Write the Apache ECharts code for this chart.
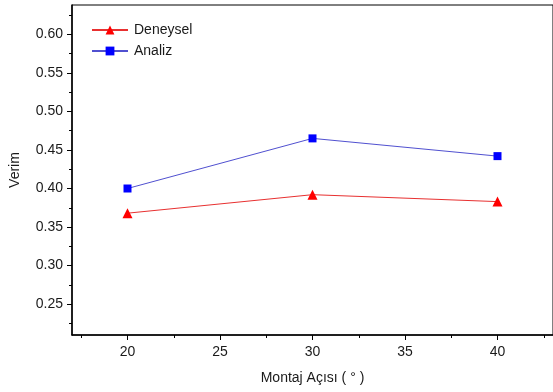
<!DOCTYPE html>
<html><head><meta charset="utf-8">
<script src="https://cdn.jsdelivr.net/npm/echarts@6/dist/echarts.min.js"></script>
<style>html,body{margin:0;padding:0;background:#fff}#c{width:553px;height:392px}</style>
</head><body><div id="c"></div>
<script>
const angles = [20, 30, 40];
const deneysel = [0.368, 0.392, 0.383];
const analiz = [0.400, 0.465, 0.442];
const xMajor = [20, 25, 30, 35, 40];
const xMinor = [17.5, 22.5, 27.5, 32.5, 37.5, 42.5];
const yMajor = [0.25, 0.30, 0.35, 0.40, 0.45, 0.50, 0.55, 0.60];
const yMinor = [0.225, 0.275, 0.325, 0.375, 0.425, 0.475, 0.525, 0.575, 0.625];

const font = 'Liberation Sans, Arial, sans-serif';
const txt = '#1a1a1a';
const chart = echarts.init(document.getElementById('c'), null, {renderer: 'canvas'});
const xBase = {type: 'value', min: 17, max: 43, splitLine: {show: false}};
const yBase = {type: 'value', min: 0.21, max: 0.638, splitLine: {show: false}};
chart.setOption({
  animation: false,
  backgroundColor: '#fff',
  grid: {left: 72, top: 5, right: -3, bottom: 57, show: true, borderColor: '#000', borderWidth: 1},
  legend: {
    orient: 'vertical', left: 86, top: 18, itemWidth: 36, itemHeight: 11, itemGap: 7,
    textStyle: {fontFamily: font, fontSize: 14, color: txt, padding: [0, 0, 0, 1]},
    data: ['Deneysel', 'Analiz']
  },
  xAxis: [
    Object.assign({}, xBase, {
      name: 'Montaj Açısı ( ° )', nameLocation: 'middle', nameGap: 36,
      nameTextStyle: {fontFamily: font, fontSize: 14, color: txt},
      axisLine: {lineStyle: {color: '#000', width: 1.5}},
      axisTick: {inside: false, length: 5, lineStyle: {color: '#000', width: 1}, customValues: xMajor},
      axisLabel: {customValues: xMajor, fontFamily: font, fontSize: 14, color: txt, margin: 10,
        formatter: v => String(v)}
    }),
    Object.assign({}, xBase, {
      position: 'bottom',
      axisLine: {show: false},
      axisTick: {length: 3, lineStyle: {color: '#000', width: 1}, customValues: xMinor},
      axisLabel: {show: false}
    })
  ],
  yAxis: [
    Object.assign({}, yBase, {
      name: 'Verim', nameLocation: 'middle', nameGap: 50, nameRotate: 90,
      nameTextStyle: {fontFamily: font, fontSize: 14, color: txt},
      axisLine: {show: true, lineStyle: {color: '#000', width: 1.5}},
      axisTick: {show: true, length: 5, lineStyle: {color: '#000', width: 1}, customValues: yMajor},
      axisLabel: {customValues: yMajor, fontFamily: font, fontSize: 14, color: txt, margin: 9,
        formatter: v => v.toFixed(2)}
    }),
    Object.assign({}, yBase, {
      position: 'left',
      axisLine: {show: false},
      axisTick: {show: true, length: 3, lineStyle: {color: '#000', width: 1}, customValues: yMinor},
      axisLabel: {show: false}
    })
  ],
  series: [
    {name: 'Deneysel', type: 'line', data: angles.map((a, i) => [a, deneysel[i]]),
      symbol: 'triangle', symbolSize: 10, itemStyle: {color: '#ff0000'},
      lineStyle: {color: '#e83030', width: 1}},
    {name: 'Analiz', type: 'line', data: angles.map((a, i) => [a, analiz[i]]),
      symbol: 'rect', symbolSize: 8, itemStyle: {color: '#0000ff'},
      lineStyle: {color: '#5050d0', width: 1}}
  ]
});
</script></body></html>
